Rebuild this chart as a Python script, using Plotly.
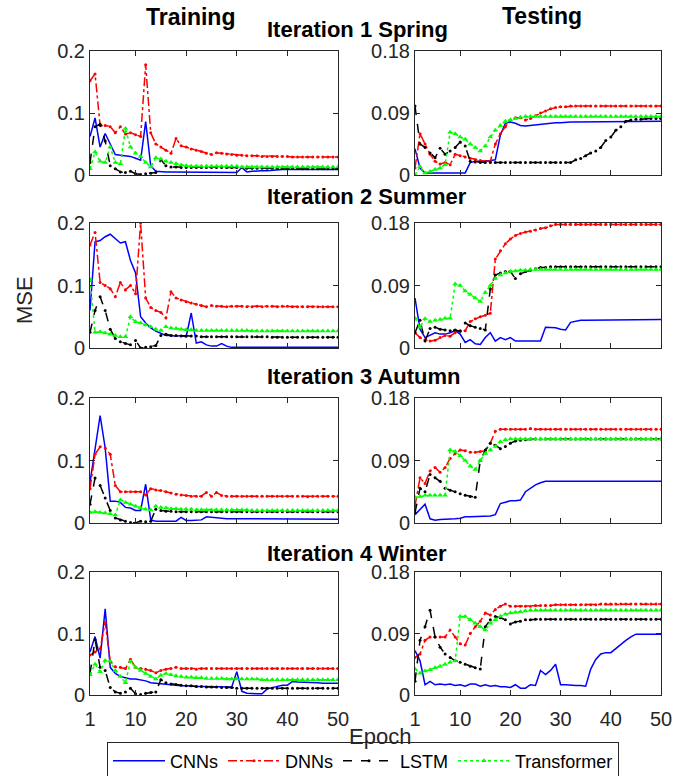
import plotly.graph_objects as go

epochs = list(range(1, 51))

# ---------------- Iteration 1 Spring ----------------
tr1_cnn = [0.062,0.092,0.045,0.067,0.050,0.033,0.032,0.031,0.030,0.027,0.024,0.086,0.015,0.006,0.005,0.005,0.005,0.005,0.005,0.005,
           0.005,0.005,0.005,0.005,0.005,0.004,0.005,0.004,0.004,0.004,0.012,0.005,0.006,0.007,0.007,0.007,0.008,0.009,0.009,0.009,
           0.009,0.009,0.009,0.009,0.009,0.009,0.009,0.009,0.009,0.009]
tr1_dnn = [0.152,0.163,0.080,0.080,0.078,0.068,0.078,0.066,0.068,0.065,0.062,0.178,0.068,0.050,0.045,0.040,0.035,0.059,0.047,0.045,
           0.042,0.040,0.038,0.035,0.033,0.036,0.035,0.034,0.033,0.032,0.032,0.031,0.031,0.031,0.030,0.030,0.030,0.030,0.030,0.030,
           0.029,0.029,0.029,0.029,0.029,0.029,0.029,0.029,0.029,0.029]
tr1_lstm = [0.020,0.078,0.082,0.055,0.015,0.010,0.005,0.004,0.006,0.002,0.001,0.002,0.003,0.004,0.025,0.015,0.013,0.013,0.012,0.012,
            0.012,0.012,0.012,0.012,0.012,0.012,0.012,0.012,0.012,0.012,0.012,0.011,0.011,0.011,0.011,0.011,0.011,0.011,0.011,0.011,
            0.011,0.011,0.010,0.010,0.010,0.010,0.010,0.010,0.010,0.010]
tr1_trf = [0.010,0.037,0.022,0.020,0.045,0.020,0.018,0.075,0.045,0.035,0.030,0.020,0.013,0.028,0.026,0.022,0.020,0.018,0.016,0.015,
           0.014,0.014,0.014,0.014,0.014,0.014,0.014,0.014,0.014,0.014,0.013,0.013,0.013,0.013,0.013,0.013,0.013,0.013,0.013,0.013,
           0.013,0.013,0.013,0.013,0.013,0.013,0.013,0.013,0.013,0.013]
te1_cnn = [0.038,0.010,0.003,0.003,0.003,0.003,0.003,0.003,0.003,0.003,0.003,0.018,0.020,0.020,0.020,0.021,0.022,0.058,0.075,0.077,
           0.075,0.072,0.071,0.072,0.073,0.074,0.075,0.076,0.076,0.076,0.077,0.077,0.077,0.077,0.077,0.077,0.077,0.077,0.077,0.078,
           0.078,0.078,0.078,0.078,0.078,0.078,0.078,0.078,0.078,0.078]
te1_dnn = [0.010,0.060,0.045,0.030,0.020,0.016,0.018,0.015,0.030,0.028,0.026,0.024,0.022,0.021,0.020,0.020,0.045,0.060,0.070,0.080,
           0.083,0.083,0.080,0.082,0.086,0.090,0.093,0.096,0.098,0.099,0.099,0.100,0.100,0.100,0.100,0.100,0.100,0.100,0.100,0.100,
           0.100,0.100,0.100,0.100,0.100,0.100,0.100,0.100,0.100,0.100]
te1_lstm = [0.100,0.045,0.040,0.032,0.025,0.039,0.030,0.035,0.040,0.048,0.042,0.020,0.019,0.018,0.018,0.018,0.018,0.018,0.018,0.018,
            0.018,0.018,0.018,0.018,0.018,0.018,0.018,0.018,0.018,0.018,0.018,0.018,0.022,0.024,0.028,0.032,0.035,0.040,0.050,0.055,
            0.065,0.070,0.078,0.080,0.081,0.081,0.082,0.082,0.082,0.082]
te1_trf = [0.000,0.012,0.003,0.005,0.008,0.010,0.015,0.062,0.060,0.055,0.052,0.045,0.040,0.035,0.042,0.055,0.065,0.072,0.078,0.080,
           0.082,0.084,0.085,0.085,0.085,0.085,0.085,0.085,0.085,0.085,0.085,0.085,0.085,0.085,0.085,0.085,0.085,0.085,0.085,0.085,
           0.085,0.085,0.085,0.085,0.085,0.085,0.085,0.085,0.085,0.085]

# ---------------- Iteration 2 Summer ----------------
tr2_cnn = [0.060,0.170,0.172,0.178,0.182,0.175,0.168,0.170,0.140,0.120,0.050,0.040,0.032,0.027,0.023,0.020,0.020,0.019,0.020,0.018,
           0.056,0.008,0.010,0.005,0.003,0.003,0.007,0.003,0.001,0.001,0.001,0.001,0.001,0.001,0.001,0.001,0.001,0.001,0.001,0.001,
           0.001,0.001,0.001,0.001,0.001,0.001,0.001,0.001,0.001,0.001]
tr2_dnn = [0.165,0.185,0.105,0.100,0.095,0.082,0.105,0.093,0.100,0.087,0.200,0.080,0.065,0.060,0.057,0.048,0.090,0.080,0.077,0.074,
           0.072,0.070,0.068,0.066,0.068,0.067,0.067,0.066,0.067,0.067,0.067,0.066,0.066,0.067,0.066,0.067,0.067,0.066,0.067,0.067,
           0.066,0.066,0.066,0.066,0.066,0.066,0.066,0.066,0.066,0.066]
tr2_lstm = [0.025,0.060,0.082,0.060,0.030,0.015,0.010,0.007,0.005,0.012,0.000,0.001,0.002,0.004,0.020,0.022,0.020,0.020,0.019,0.019,
            0.019,0.019,0.018,0.018,0.018,0.018,0.018,0.018,0.018,0.018,0.018,0.018,0.018,0.018,0.018,0.018,0.017,0.017,0.017,0.017,
            0.017,0.017,0.017,0.017,0.017,0.017,0.017,0.017,0.017,0.017]
tr2_trf = [0.110,0.025,0.026,0.024,0.022,0.020,0.018,0.018,0.050,0.042,0.040,0.037,0.034,0.030,0.028,0.034,0.032,0.031,0.030,0.029,
           0.029,0.028,0.028,0.028,0.028,0.028,0.028,0.028,0.028,0.028,0.028,0.028,0.027,0.027,0.027,0.027,0.027,0.027,0.027,0.027,
           0.027,0.027,0.027,0.027,0.027,0.027,0.027,0.027,0.027,0.027]
te2_cnn = [0.072,0.027,0.015,0.018,0.022,0.020,0.020,0.022,0.025,0.020,0.008,0.012,0.006,0.005,0.015,0.022,0.010,0.015,0.012,0.015,
           0.010,0.010,0.010,0.010,0.010,0.010,0.030,0.030,0.029,0.027,0.026,0.037,0.039,0.040,0.040,0.040,0.040,0.041,0.041,0.041,
           0.041,0.041,0.041,0.041,0.041,0.041,0.041,0.041,0.041,0.041]
te2_dnn = [0.022,0.015,0.012,0.010,0.011,0.015,0.018,0.017,0.022,0.025,0.025,0.038,0.042,0.045,0.047,0.050,0.128,0.140,0.150,0.157,
           0.162,0.165,0.167,0.168,0.170,0.172,0.173,0.176,0.178,0.178,0.178,0.178,0.178,0.178,0.178,0.178,0.178,0.178,0.178,0.178,
           0.178,0.178,0.178,0.178,0.178,0.178,0.178,0.178,0.178,0.178]
te2_lstm = [0.022,0.040,0.010,0.028,0.030,0.027,0.026,0.025,0.026,0.024,0.036,0.032,0.030,0.028,0.026,0.085,0.105,0.108,0.110,0.110,
            0.100,0.107,0.110,0.112,0.114,0.116,0.116,0.117,0.117,0.117,0.117,0.117,0.117,0.117,0.117,0.117,0.117,0.117,0.117,0.117,
            0.117,0.117,0.117,0.117,0.117,0.117,0.117,0.117,0.117,0.117]
te2_trf = [0.043,0.030,0.042,0.038,0.040,0.041,0.043,0.043,0.092,0.090,0.082,0.077,0.072,0.067,0.080,0.090,0.100,0.105,0.108,0.110,
           0.111,0.112,0.112,0.113,0.113,0.113,0.113,0.113,0.113,0.113,0.113,0.113,0.113,0.113,0.113,0.113,0.113,0.113,0.113,0.113,
           0.113,0.113,0.113,0.113,0.113,0.113,0.113,0.113,0.113,0.113]

# ---------------- Iteration 3 Autumn ----------------
tr3_cnn = [0.065,0.120,0.172,0.120,0.035,0.035,0.033,0.025,0.024,0.020,0.020,0.062,0.005,0.003,0.003,0.003,0.003,0.003,0.009,0.004,
           0.004,0.005,0.005,0.010,0.009,0.008,0.007,0.007,0.007,0.007,0.007,0.007,0.007,0.007,0.007,0.007,0.007,0.007,0.007,0.007,
           0.006,0.006,0.006,0.006,0.006,0.006,0.006,0.006,0.006,0.006]
tr3_dnn = [0.055,0.110,0.122,0.120,0.110,0.060,0.050,0.050,0.050,0.050,0.050,0.045,0.055,0.053,0.052,0.050,0.048,0.046,0.045,0.044,
           0.043,0.043,0.043,0.049,0.043,0.049,0.044,0.043,0.043,0.043,0.043,0.043,0.043,0.043,0.043,0.043,0.043,0.043,0.043,0.043,
           0.043,0.043,0.043,0.042,0.043,0.043,0.043,0.043,0.043,0.043]
tr3_lstm = [0.030,0.072,0.060,0.040,0.020,0.008,0.005,0.003,0.001,0.000,0.003,0.002,0.003,0.022,0.020,0.019,0.019,0.018,0.018,0.018,
            0.018,0.018,0.018,0.018,0.018,0.018,0.018,0.018,0.018,0.018,0.018,0.018,0.018,0.018,0.018,0.018,0.018,0.018,0.018,0.018,
            0.018,0.018,0.018,0.018,0.018,0.018,0.018,0.018,0.018,0.018]
tr3_trf = [0.017,0.018,0.017,0.016,0.015,0.013,0.037,0.033,0.030,0.027,0.024,0.022,0.021,0.027,0.025,0.024,0.023,0.023,0.022,0.022,
           0.022,0.021,0.021,0.021,0.021,0.021,0.021,0.021,0.021,0.021,0.021,0.021,0.020,0.020,0.020,0.020,0.020,0.020,0.020,0.020,
           0.020,0.020,0.020,0.020,0.020,0.020,0.020,0.020,0.020,0.020]
te3_cnn = [0.012,0.020,0.027,0.006,0.004,0.005,0.005,0.005,0.006,0.007,0.009,0.009,0.009,0.009,0.010,0.010,0.012,0.028,0.030,0.032,
           0.032,0.033,0.045,0.050,0.055,0.058,0.060,0.060,0.060,0.060,0.060,0.060,0.060,0.060,0.060,0.060,0.060,0.060,0.060,0.060,
           0.060,0.060,0.060,0.060,0.060,0.060,0.060,0.060,0.060,0.060]
te3_dnn = [0.025,0.065,0.057,0.075,0.080,0.073,0.080,0.093,0.100,0.105,0.104,0.102,0.102,0.103,0.104,0.115,0.132,0.135,0.135,0.135,
           0.135,0.135,0.135,0.136,0.135,0.135,0.135,0.135,0.135,0.135,0.135,0.135,0.135,0.135,0.135,0.135,0.135,0.135,0.135,0.135,
           0.135,0.135,0.135,0.135,0.135,0.135,0.135,0.135,0.135,0.135]
te3_lstm = [0.015,0.050,0.045,0.070,0.065,0.060,0.050,0.047,0.045,0.042,0.040,0.038,0.037,0.090,0.105,0.115,0.112,0.107,0.110,0.115,
            0.118,0.119,0.120,0.121,0.121,0.121,0.121,0.121,0.121,0.121,0.121,0.121,0.121,0.121,0.121,0.121,0.121,0.121,0.121,0.121,
            0.121,0.121,0.121,0.121,0.121,0.121,0.121,0.121,0.121,0.121]
te3_trf = [0.037,0.038,0.040,0.040,0.040,0.040,0.040,0.105,0.103,0.097,0.090,0.082,0.077,0.090,0.100,0.105,0.110,0.117,0.120,0.121,
           0.121,0.121,0.121,0.121,0.121,0.121,0.121,0.121,0.121,0.121,0.121,0.121,0.121,0.121,0.121,0.121,0.121,0.121,0.121,0.121,
           0.121,0.121,0.121,0.121,0.121,0.121,0.121,0.121,0.121,0.121]

# ---------------- Iteration 4 Winter ----------------
tr4_cnn = [0.070,0.095,0.060,0.140,0.045,0.035,0.030,0.028,0.026,0.026,0.025,0.023,0.020,0.019,0.018,0.017,0.016,0.016,0.015,0.015,
           0.014,0.014,0.014,0.014,0.013,0.013,0.013,0.013,0.013,0.038,0.006,0.003,0.002,0.002,0.002,0.010,0.012,0.014,0.016,0.016,
           0.022,0.021,0.021,0.020,0.020,0.020,0.019,0.019,0.019,0.019]
tr4_dnn = [0.065,0.070,0.075,0.118,0.055,0.046,0.045,0.043,0.058,0.045,0.043,0.042,0.040,0.036,0.040,0.042,0.043,0.045,0.043,0.043,
           0.043,0.042,0.043,0.043,0.043,0.043,0.043,0.043,0.043,0.043,0.043,0.043,0.043,0.043,0.043,0.043,0.043,0.043,0.043,0.043,
           0.043,0.043,0.043,0.043,0.043,0.043,0.043,0.043,0.043,0.043]
tr4_lstm = [0.035,0.090,0.045,0.040,0.012,0.005,0.003,0.005,0.011,0.002,0.001,0.003,0.004,0.005,0.025,0.020,0.018,0.017,0.016,0.015,
            0.015,0.014,0.014,0.013,0.013,0.013,0.012,0.012,0.012,0.011,0.011,0.011,0.011,0.011,0.011,0.011,0.011,0.011,0.011,0.011,
            0.011,0.011,0.011,0.011,0.011,0.011,0.011,0.011,0.011,0.011]
tr4_trf = [0.033,0.050,0.038,0.056,0.055,0.040,0.030,0.020,0.055,0.045,0.040,0.035,0.030,0.026,0.032,0.035,0.033,0.031,0.030,0.029,
           0.029,0.028,0.028,0.027,0.027,0.027,0.027,0.026,0.026,0.026,0.026,0.026,0.026,0.026,0.025,0.025,0.025,0.025,0.025,0.025,
           0.025,0.025,0.025,0.025,0.025,0.025,0.025,0.025,0.025,0.025]
te4_cnn = [0.065,0.050,0.015,0.020,0.015,0.016,0.015,0.016,0.014,0.015,0.013,0.016,0.016,0.013,0.015,0.013,0.014,0.012,0.012,0.011,
           0.015,0.010,0.010,0.015,0.014,0.036,0.030,0.036,0.045,0.015,0.015,0.014,0.014,0.014,0.013,0.038,0.052,0.060,0.062,0.062,
           0.068,0.075,0.080,0.085,0.089,0.089,0.089,0.089,0.089,0.089]
te4_dnn = [0.055,0.060,0.080,0.085,0.085,0.085,0.085,0.095,0.085,0.075,0.073,0.090,0.100,0.108,0.120,0.117,0.125,0.130,0.133,0.130,
           0.130,0.130,0.130,0.130,0.131,0.131,0.131,0.131,0.132,0.132,0.132,0.132,0.132,0.132,0.132,0.132,0.132,0.133,0.133,0.133,
           0.133,0.133,0.133,0.133,0.133,0.133,0.133,0.133,0.133,0.133]
te4_lstm = [0.020,0.080,0.100,0.124,0.085,0.070,0.060,0.055,0.050,0.048,0.045,0.042,0.040,0.038,0.100,0.110,0.115,0.113,0.110,0.104,
            0.107,0.108,0.110,0.110,0.111,0.111,0.111,0.111,0.111,0.111,0.111,0.111,0.111,0.111,0.111,0.111,0.111,0.111,0.111,0.111,
            0.111,0.111,0.111,0.111,0.111,0.111,0.111,0.111,0.111,0.111]
te4_trf = [0.038,0.032,0.035,0.037,0.040,0.042,0.045,0.048,0.050,0.115,0.115,0.110,0.105,0.100,0.095,0.105,0.110,0.115,0.118,0.120,
           0.121,0.122,0.123,0.124,0.124,0.124,0.124,0.124,0.124,0.124,0.124,0.124,0.124,0.124,0.124,0.124,0.124,0.124,0.124,0.124,
           0.124,0.124,0.124,0.124,0.124,0.124,0.124,0.124,0.124,0.124]

model_names = ["CNNs", "DNNs", "LSTM", "Transformer"]
iteration_titles = ["Iteration 1 Spring", "Iteration 2 Summer", "Iteration 3 Autumn", "Iteration 4 Winter"]
train_ticks = [0, 0.1, 0.2]
train_ticklabels = ["0", "0.1", "0.2"]
test_ticks = [0, 0.09, 0.18]
test_ticklabels = ["0", "0.09", "0.18"]
x_ticks = [1, 10, 20, 30, 40, 50]

train_data = [
    [tr1_cnn, tr1_dnn, tr1_lstm, tr1_trf],
    [tr2_cnn, tr2_dnn, tr2_lstm, tr2_trf],
    [tr3_cnn, tr3_dnn, tr3_lstm, tr3_trf],
    [tr4_cnn, tr4_dnn, tr4_lstm, tr4_trf],
]
test_data = [
    [te1_cnn, te1_dnn, te1_lstm, te1_trf],
    [te2_cnn, te2_dnn, te2_lstm, te2_trf],
    [te3_cnn, te3_dnn, te3_lstm, te3_trf],
    [te4_cnn, te4_dnn, te4_lstm, te4_trf],
]

styles = [
    dict(line=dict(color="#0000FF", width=1.5, dash="solid"), mode="lines"),
    dict(line=dict(color="#FF0000", width=1.5, dash="dashdot"), mode="lines+markers",
         marker=dict(symbol="circle", size=3, color="#FF0000")),
    dict(line=dict(color="#000000", width=1.5, dash="dash"), mode="lines+markers",
         marker=dict(symbol="circle", size=3, color="#000000")),
    dict(line=dict(color="#00FF00", width=1.5, dash="dot"), mode="lines+markers",
         marker=dict(symbol="triangle-up", size=5, color="#00FF00")),
]

W, H = 696, 776
def px_x(p): return p / W
def px_y(p): return 1 - p / H

col_dom = [(px_x(90), px_x(338)), (px_x(415), px_x(661))]
row_px = [(51, 175), (223, 348), (398, 523), (572, 695)]

fig = go.Figure()
layout = {}
font_family = "Liberation Sans, Arial, sans-serif"
axis_color = "#262626"

idx = 0
for r in range(4):
    for c in range(2):
        idx += 1
        xa = "x" if idx == 1 else f"x{idx}"
        ya = "y" if idx == 1 else f"y{idx}"
        data = train_data[r] if c == 0 else test_data[r]
        for k in range(4):
            fig.add_trace(go.Scatter(x=epochs, y=data[k], name=model_names[k], xaxis=xa, yaxis=ya,
                                     showlegend=(idx == 1), **styles[k]))
        top, bot = row_px[r]
        common = dict(showline=True, linecolor=axis_color, linewidth=1, mirror="ticks", ticks="inside",
                      ticklen=5, tickcolor=axis_color, showgrid=False, zeroline=False, automargin=False,
                      tickfont=dict(family=font_family, size=20, color=axis_color))
        layout["xaxis" if idx == 1 else f"xaxis{idx}"] = dict(
            domain=list(col_dom[c]), anchor=ya, range=[1, 50], tickvals=x_ticks,
            showticklabels=(r == 3), ticklabelstandoff=6, **common)
        if c == 0:
            yt, ytl, yr = train_ticks, train_ticklabels, [0, 0.2]
        else:
            yt, ytl, yr = test_ticks, test_ticklabels, [0, 0.18]
        layout["yaxis" if idx == 1 else f"yaxis{idx}"] = dict(
            domain=[px_y(bot), px_y(top)], anchor=xa, range=yr, tickvals=yt, ticktext=ytl, **common)

annotations = [
    dict(text="<b>Training</b>", x=px_x(190), y=px_y(17), font=dict(size=23), xanchor="center"),
    dict(text="<b>Testing</b>", x=px_x(542), y=px_y(16), font=dict(size=23), xanchor="center"),
]
title_y = [30, 196, 376, 553]
for t, yp in zip(iteration_titles, title_y):
    annotations.append(dict(text=f"<b>{t}</b>", x=px_x(265), y=px_y(yp), font=dict(size=22), xanchor="left"))
annotations.append(dict(text="MSE", x=px_x(25), y=px_y(300), textangle=-90, xanchor="center",
                        font=dict(size=22, color=axis_color)))
annotations.append(dict(text="Epoch", x=px_x(380), y=px_y(736), xanchor="center",
                        font=dict(size=22, color=axis_color)))
for a in annotations:
    a.update(xref="paper", yref="paper", showarrow=False, yanchor="middle")
    a["font"].setdefault("color", "#000000")
    a["font"]["family"] = font_family

fig.update_layout(
    width=W, height=H, margin=dict(l=0, r=0, t=0, b=0, autoexpand=False),
    paper_bgcolor="white", plot_bgcolor="white",
    annotations=annotations,
    legend=dict(orientation="h", x=px_x(363), y=px_y(761), xanchor="center", yanchor="middle",
                bordercolor=axis_color, borderwidth=1, bgcolor="white",
                font=dict(family=font_family, size=18, color="#000000"),
                itemwidth=52, tracegroupgap=0),
    **layout,
)

fig.write_html("out.html", config={"displayModeBar": False},
               post_script="document.body.style.margin='0';")
